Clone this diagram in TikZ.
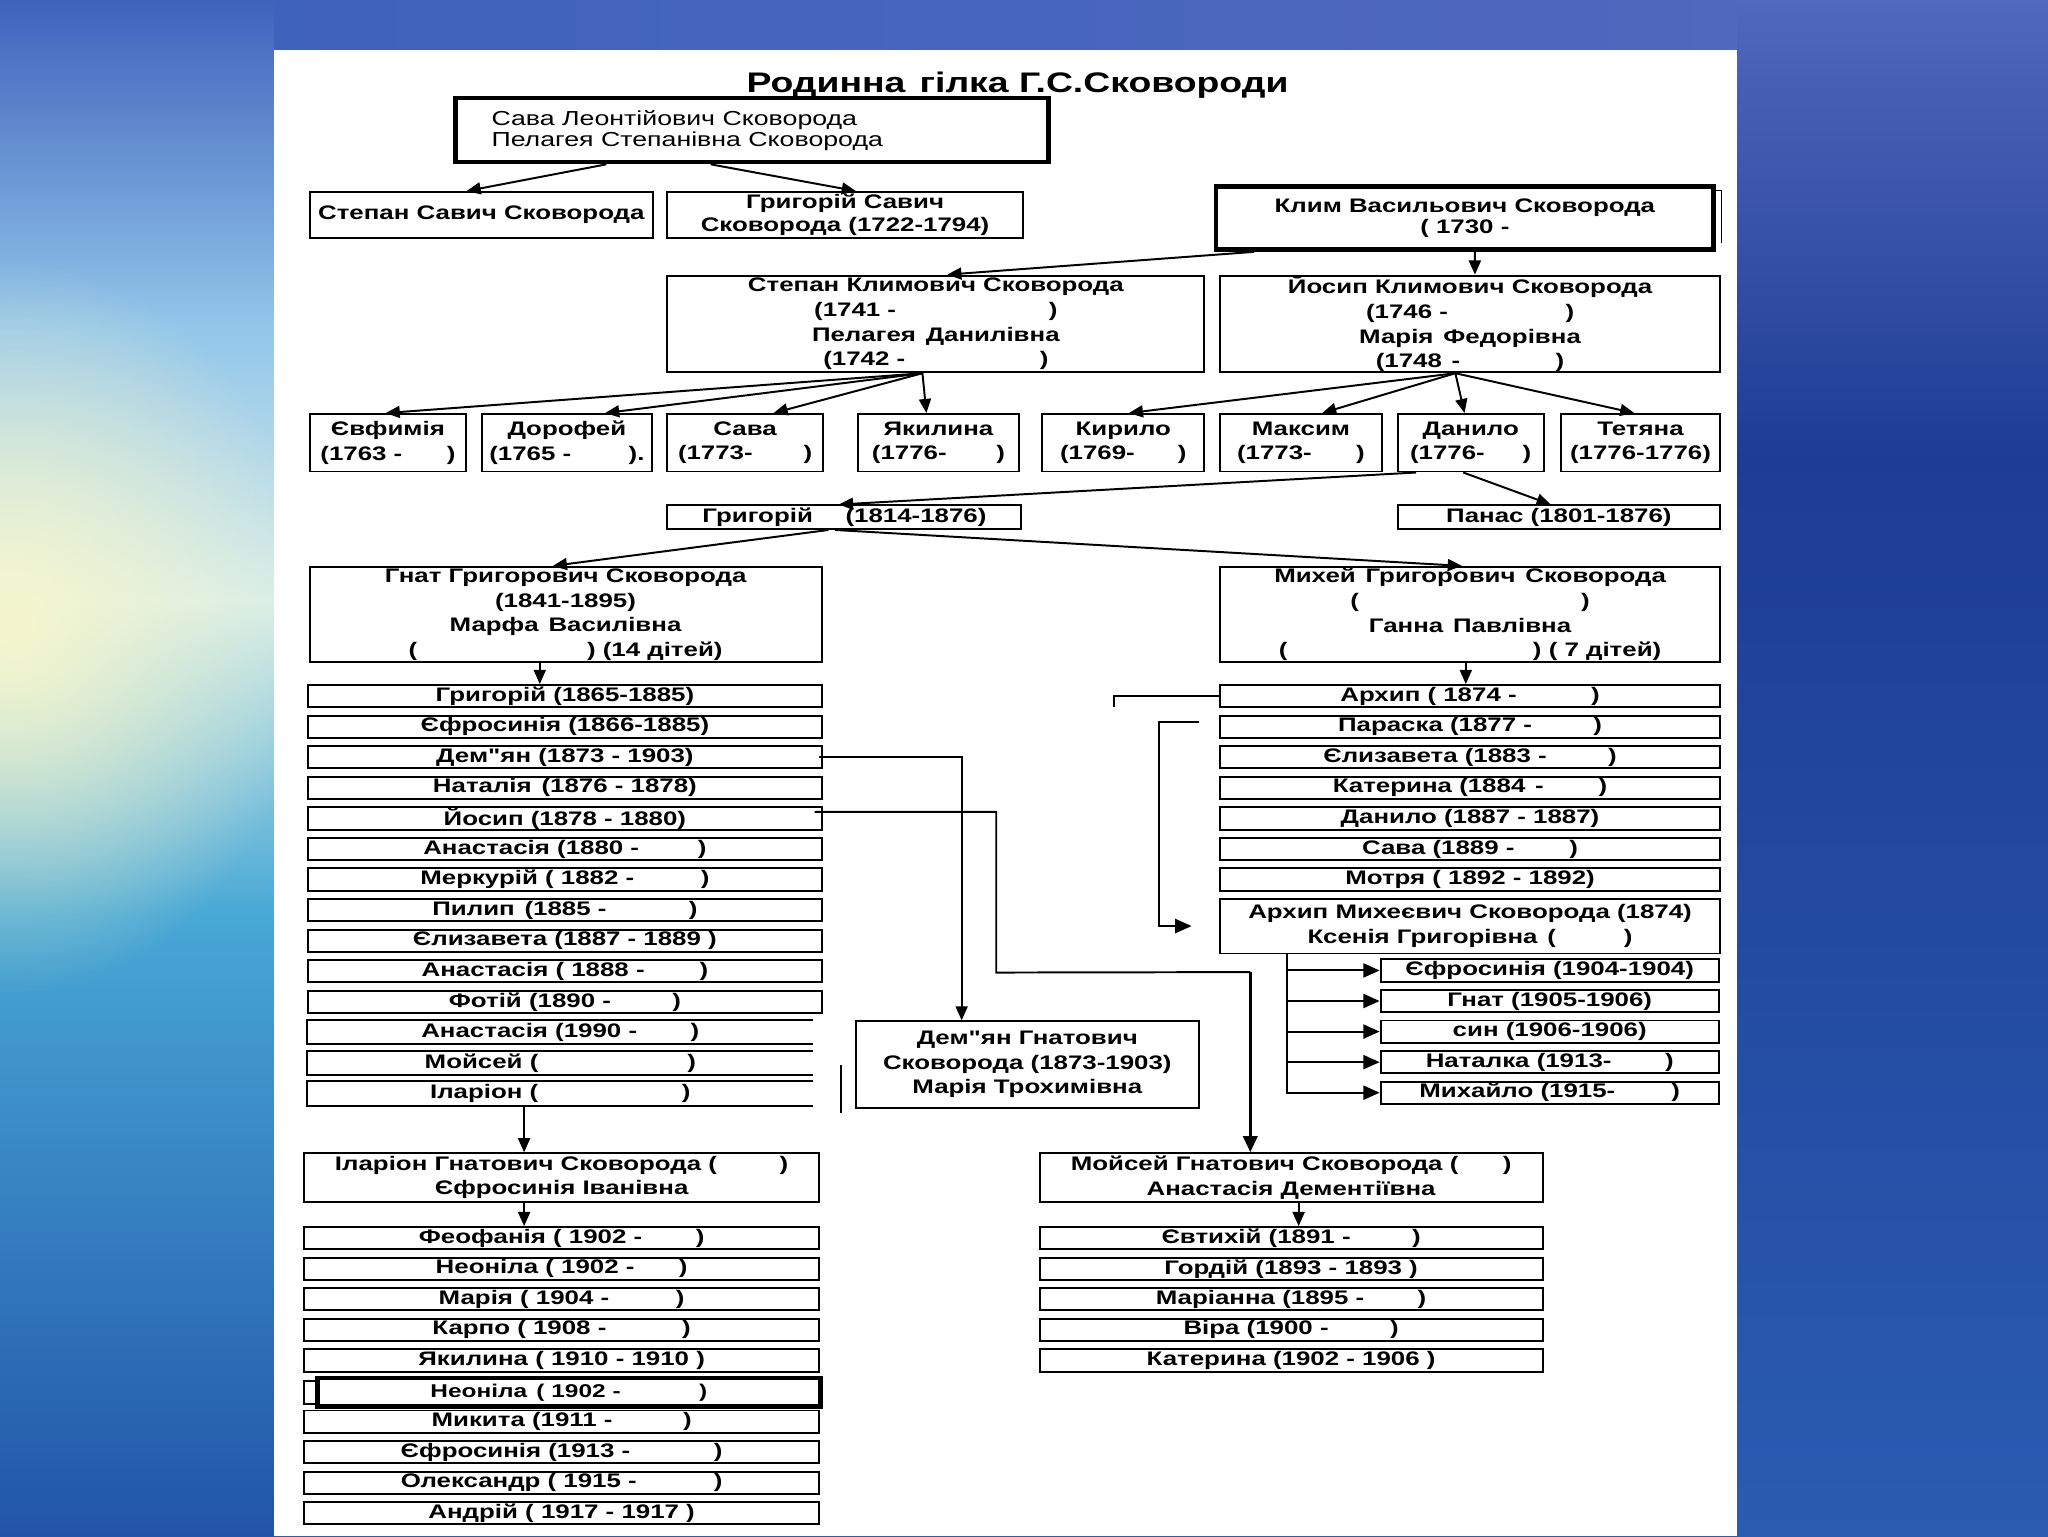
\documentclass[tikz,border=0pt]{standalone}
\usepackage{fontspec}
\setmainfont{Liberation Sans}[FakeStretch=1.32,Ligatures=TeXOff]
\usetikzlibrary{arrows.meta,calc,fadings}
\newlength\px
\setlength\px{0.6pt}
\newcommand\gp[1]{\hspace*{#1\px})}
\newcommand\bfnt{\fontsize{9}{11.3}\selectfont\bfseries}
\newcommand\bx[7][]{\node[box,minimum width={((#5)-(#3))*0.6pt},minimum height={((#6)-(#4))*0.6pt},#1] (#2) at ({((#3)+(#5))/2},{((#4)+(#6))/2}) {#7};}
\newcommand\lbx[6][]{\bx[#1]{#2}{#3}{(#5)-8.5}{#4}{(#5)+8.5}{#6}}
\definecolor{Lzero}{HTML}{3F62BC}
\definecolor{Lone}{HTML}{92C6EA}
\definecolor{Ltwo}{HTML}{D8EEEA}
\definecolor{Lthree}{HTML}{48A8D6}
\definecolor{Lfour}{HTML}{2154A8}
\definecolor{Rzero}{HTML}{5068BE}
\definecolor{Rone}{HTML}{1E3C94}
\definecolor{Rtwo}{HTML}{2A5CB2}
\definecolor{bgtop}{HTML}{4C66BA}
\definecolor{glow}{HTML}{F6F6CC}
\tikzfading[name=glowfade, inner color=transparent!0, outer color=transparent!100]
\begin{document}
\begin{tikzpicture}[x=0.6pt,y=-0.6pt,
  box/.style={draw,line width=0.9pt,fill=white,inner sep=0pt,align=center,font=\bfnt},
  thick box/.style={line width=2.2pt},
  openbox/.style={draw=none},
  arr/.style={-{Triangle[length=6.5pt,width=5.5pt]},line width=0.9pt},
  bigarr/.style={-{Triangle[length=7.5pt,width=6.5pt]},line width=0.9pt}]
\useasboundingbox (0,0) rectangle (1568,1176);
% background
\shade[top color=bgtop,bottom color=Rtwo] (0,0) rectangle (1568,1176);
\shade[top color=Lzero,bottom color=Lone] (0,0) rectangle (210,250);
\shade[top color=Lone,bottom color=Ltwo] (0,250) rectangle (210,460);
\shade[top color=Ltwo,bottom color=Lthree] (0,460) rectangle (210,700);
\shade[top color=Lthree,bottom color=Lfour] (0,700) rectangle (210,1176);
\fill[glow,path fading=glowfade] (10,480) ellipse (230 and 280);
\shade[top color=Rzero,bottom color=Rone] (1330,0) rectangle (1568,350);
\shade[top color=Rone,bottom color=Rtwo] (1330,350) rectangle (1568,1176);
\shade[left color=Lzero,right color=Rzero] (210,0) rectangle (1330,38);
\fill[white] (210,38) rectangle (1330,1176);
% title
\node[font=\fontsize{13}{15}\selectfont\bfseries] (title) at (779,65) {Родинна\enspace гілка Г.С.Сковороди};
% top
\bx[thick box]{sava}{349}{75}{803}{124}{}
\node[anchor=west,align=left,inner sep=0pt,font=\fontsize{9.3}{9.8}\selectfont] (savat) at (376,100) {Сава Леонтійович Сковорода\\Пелагея Степанівна Сковорода};
\bx{stepS}{237}{147}{500}{182}{Степан Савич Сковорода}
\bx[font=\fontsize{9}{10.8}\selectfont\bfseries]{hryhS}{511}{147}{783}{182}{Григорій Савич\\Сковорода (1722-1794)}
\bx[thick box,font=\fontsize{9}{9.8}\selectfont\bfseries]{klym}{931}{143}{1312}{191}{Клим Васильович Сковорода\\( 1730 -}
\draw[line width=0.6pt] (1313,146) -- (1318,146) -- (1318,186);
\bx{stepK}{511}{211}{922}{285}{Степан Климович Сковорода\\(1741 -\gp{117}\\Пелагея\enspace Данилівна\\(1742 -\gp{103}}
\bx{yosK}{934}{211}{1317}{285}{Йосип Климович Сковорода\\(1746 -\gp{90}\\Марія\enspace Федорівна\\(1748\enspace-\gp{73}}
% children row
\bx{yevf}{237}{317}{357}{361}{Євфимія\\(1763 -\gp{34}}
\bx{doro}{369}{317}{499}{361}{Дорофей\\(1765 -\gp{44}.}
\bx{savb}{511}{317}{630}{361}{Сава\\(1773-\gp{39}}
\bx{yakl}{657}{317}{780}{361}{Якилина\\(1776-\gp{38}}
\bx{kyr}{798}{317}{922}{361}{Кирило\\(1769-\gp{33}}
\bx{maks}{934}{317}{1058}{361}{Максим\\(1773-\gp{34}}
\bx{dan}{1070}{317}{1182}{361}{Данило\\(1776-\gp{29}}
\bx{tet}{1195}{317}{1317}{361}{Тетяна\\(1776-1776)}
\bx{hryh}{511}{387}{782}{405}{Григорій\hspace*{25\px}(1814-1876)}
\bx{panas}{1070}{387}{1317}{405}{Панас (1801-1876)}
\bx{gnat}{237}{434}{629}{507}{Гнат Григорович Сковорода\\(1841-1895)\\Марфа\enspace Василівна\\(\gp{130} (14 дітей)}
\bx{mykh}{934}{434}{1317}{507}{Михей\enspace Григорович\enspace Сковорода\\(\gp{170}\\Ганна\enspace Павлівна\\(\gp{188} ( 7 дітей)}
% Gnat list
\lbx{ga}{236}{629}{533}{Григорій (1865-1885)}
\lbx{gb}{236}{629}{556.4}{Єфросинія (1866-1885)}
\lbx{gc}{236}{629}{579.8}{Дем"ян (1873 - 1903)}
\lbx{gd}{236}{629}{603.2}{Наталія\enspace(1876 - 1878)}
\lbx{ge}{236}{629}{626.6}{Йосип (1878 - 1880)}
\lbx{gf}{236}{629}{650}{Анастасія (1880 -\gp{45}}
\lbx{gg}{236}{629}{673.4}{Меркурій ( 1882 -\gp{51}}
\lbx{gh}{236}{629}{696.8}{Пилип\enspace(1885 -\gp{63}}
\lbx{gi}{236}{629}{720.2}{Єлизавета (1887 - 1889 )}
\lbx{gj}{236}{629}{743.6}{Анастасія ( 1888 -\gp{42}}
\lbx{gk}{236}{629}{767}{Фотій (1890 -\gp{47}}
\lbx[openbox]{gl}{236}{622}{790.4}{Анастасія (1990 -\gp{41}}
\lbx[openbox]{gm}{236}{622}{813.8}{Мойсей (\gp{114}}
\lbx[openbox]{gn}{236}{622}{837.2}{Іларіон (\gp{110}}
\foreach \n in {gl,gm,gn} \draw[line width=0.9pt] (\n.north east) -- (\n.north west) -- (\n.south west) -- (\n.south east);
\draw[line width=0.7pt] (644,815) -- (644,852);
% Mykhei list
\lbx{ma}{934}{1317}{533}{Архип ( 1874 -\gp{57}}
\lbx{mb}{934}{1317}{556.4}{Параска (1877 -\gp{47}}
\lbx{mc}{934}{1317}{579.8}{Єлизавета (1883 -\gp{47}}
\lbx{md}{934}{1317}{603.2}{Катерина (1884\enspace-\gp{42}}
\lbx{me}{934}{1317}{626.6}{Данило (1887 - 1887)}
\lbx{mf}{934}{1317}{650}{Сава (1889 -\gp{42}}
\lbx{mg}{934}{1317}{673.4}{Мотря ( 1892 - 1892)}
\bx{arkh}{934}{688}{1317}{730}{Архип Михеєвич Сковорода (1874)\\Ксенія Григорівна\enspace(\gp{52}}
\lbx{aa}{1057}{1316}{743}{Єфросинія (1904-1904)}
\lbx{ab}{1057}{1316}{766.4}{Гнат (1905-1906)}
\lbx{ac}{1057}{1316}{789.8}{син (1906-1906)}
\lbx{ad}{1057}{1316}{813.2}{Наталка (1913-\gp{41}}
\lbx{ae}{1057}{1316}{836.6}{Михайло (1915-\gp{43}}
% Dem'yan
\bx{dem}{655}{782}{918}{848}{Дем"ян Гнатович\\Сковорода (1873-1903)\\Марія Трохимівна}
% Ilarion
\bx{ilar}{233}{883}{627}{920}{Іларіон Гнатович Сковорода (\gp{48}\\Єфросинія Іванівна}
\lbx{ia}{233}{627}{948}{Феофанія ( 1902 -\gp{41}}
\lbx{ib}{233}{627}{971.4}{Неоніла ( 1902 -\gp{34}}
\lbx{ic}{233}{627}{994.8}{Марія ( 1904 -\gp{51}}
\lbx{id}{233}{627}{1018.2}{Карпо ( 1908 -\gp{58}}
\lbx{ie}{233}{627}{1041.6}{Якилина ( 1910 - 1910 )}
\bx{ifb}{233}{1057}{627}{1075}{}
\bx[thick box,font=\fontsize{8.5}{9}\selectfont\bfseries]{if}{243}{1055}{628}{1077}{Неоніла\enspace( 1902 -\gp{60}}
\lbx{ig}{233}{627}{1088.4}{Микита (1911 -\gp{54}}
\lbx{ih}{233}{627}{1111.8}{Єфросинія (1913 -\gp{64}}
\lbx{ii}{233}{627}{1135.2}{Олександр ( 1915 -\gp{59}}
\lbx{ij}{233}{627}{1158.6}{Андрій ( 1917 - 1917 )}
% Moisei
\bx{moys}{796}{883}{1181}{920}{Мойсей Гнатович Сковорода (\gp{34}\\Анастасія Дементіївна}
\lbx{oa}{796}{1181}{948}{Євтихій (1891 -\gp{47}}
\lbx{ob}{796}{1181}{971.4}{Гордій (1893 - 1893 )}
\lbx{oc}{796}{1181}{994.8}{Маріанна (1895 -\gp{41}}
\lbx{od}{796}{1181}{1018.2}{Віра (1900 -\gp{47}}
\lbx{oe}{796}{1181}{1041.6}{Катерина (1902 - 1906 )}
% connectors
\draw[arr] ($(sava.south west)+(117,0)$) -- ($(stepS.north west)+(121,0)$);
\draw[arr] ($(sava.south west)+(197,0)$) -- ($(hryhS.north west)+(145,0)$);
\draw[arr] ($(klym.south west)+(31,0)$) -- ($(stepK.north west)+(215,0)$);
\draw[arr] ($(klym.south west)+(200,0)$) -- ($(yosK.north west)+(196,0)$);
\foreach \t/\dx in {yevf/59,doro/95,savb/82,yakl/53}
  \draw[arr] ($(stepK.south west)+(196,0)$) -- ($(\t.north west)+(\dx,0)$);
\foreach \t/\dx in {kyr/67,maks/79,dan/52,tet/57}
  \draw[arr] ($(yosK.south west)+(181,0)$) -- ($(\t.north west)+(\dx,0)$);
\draw[arr] ($(dan.south west)+(15,0)$) -- ($(hryh.north west)+(132,0)$);
\draw[arr] ($(dan.south west)+(51,0)$) -- ($(panas.north west)+(118,0)$);
\draw[arr] ($(hryh.south west)+(124,0)$) -- ($(gnat.north west)+(187,0)$);
\draw[arr] ($(hryh.south west)+(129,0)$) -- ($(mykh.north west)+(186,0)$);
\draw[arr] ($(gnat.south west)+(177,0)$) -- ($(ga.north west)+(178,0)$);
\draw[arr] ($(mykh.south west)+(189,0)$) -- ($(ma.north west)+(189,0)$);
\draw[arr] ($(gn.south west)+(166,0)$) -- ($(ilar.north west)+(169,0)$);
\draw[arr] ($(ilar.south west)+(169,0)$) -- ($(ia.north west)+(169,0)$);
\draw[arr] ($(moys.south west)+(199,0)$) -- ($(oa.north west)+(199,0)$);
\draw[arr] ($(gc.east)+(-3,0)$) -| ($(dem.north west)+(82,0)$);
\coordinate (mbend) at ($(moys.north west)+(162,-138)$);
\draw[line width=0.9pt] ($(ge.east)+(-6,-5)$) -| ($(ge.east)+(133,118)$) -- (mbend);
\draw[bigarr,line width=1.6pt] (mbend) -- ($(moys.north west)+(162,0)$);
\coordinate (tickA) at (853,541);
\draw[line width=0.9pt] (ma.west) -| (tickA);
\coordinate (parS) at (918,553);
\draw[bigarr] (parS) -| ($(arkh.west)+(-46,0)$) -- ($(arkh.west)+(-21,0)$);
\coordinate (av) at ($(arkh.south west)+(52,0)$);
\draw[bigarr] (av) |- (ae.west);
\foreach \n in {aa,ab,ac,ad} \draw[bigarr] (av |- \n.west) -- (\n.west);
\end{tikzpicture}
\end{document}
